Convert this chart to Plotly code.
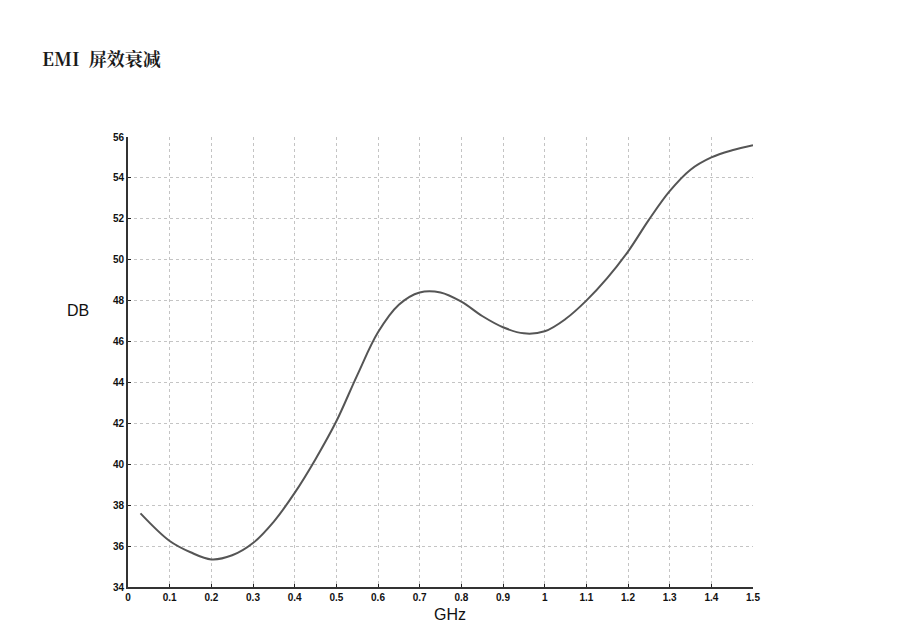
import plotly.graph_objects as go

freq_ghz = [0.03, 0.1, 0.15, 0.2, 0.25, 0.3, 0.35, 0.4, 0.45, 0.5, 0.55, 0.6,
            0.65, 0.7, 0.75, 0.8, 0.85, 0.9, 0.95, 1.0, 1.05, 1.1, 1.15,
            1.2, 1.25, 1.3, 1.35, 1.4, 1.45, 1.5]
atten_db = [37.6, 36.25, 35.7, 35.35, 35.55, 36.15, 37.2, 38.6, 40.25, 42.1, 44.35, 46.45,
            47.8, 48.4, 48.4, 47.95, 47.25, 46.7, 46.4, 46.5, 47.1, 48.0, 49.1,
            50.4, 51.95, 53.35, 54.4, 55.0, 55.35, 55.6]

x_ticks = [0, 0.1, 0.2, 0.3, 0.4, 0.5, 0.6, 0.7, 0.8, 0.9, 1, 1.1, 1.2, 1.3, 1.4, 1.5]
x_labels = ["0", "0.1", "0.2", "0.3", "0.4", "0.5", "0.6", "0.7", "0.8", "0.9", "1",
            "1.1", "1.2", "1.3", "1.4", "1.5"]
y_ticks = [34, 36, 38, 40, 42, 44, 46, 48, 50, 52, 54, 56]

fig = go.Figure()
fig.add_trace(go.Scatter(
    x=freq_ghz, y=atten_db, mode="lines",
    line=dict(color="#555555", width=2, shape="spline", smoothing=1.0),
    showlegend=False, hoverinfo="x+y",
))

tick_font = dict(family="Liberation Sans, Arial, sans-serif", size=10, color="#111111",
                 weight="bold")
grid = dict(showgrid=True, gridcolor="#c4c4c4", gridwidth=1, griddash="3px,3px")

# the page puts the figure 8px in from the top-left corner
fig.update_layout(
    width=899, height=636,
    margin=dict(l=120, r=154, t=129, b=57),
    paper_bgcolor="white", plot_bgcolor="white",
    title=dict(text="EMI\u2002屏效衰减", x=34 / 899, xanchor="left", y=1 - 52 / 636, yanchor="middle",
               font=dict(family="Noto Serif CJK SC, Liberation Serif, Noto Sans CJK SC, serif",
                         size=18, color="#1a1a1a", weight="bold")),
    xaxis=dict(range=[0, 1.5], tickvals=x_ticks, ticktext=x_labels, tickfont=tick_font,
               ticks="inside", ticklen=3, tickcolor="#222222",
               showline=True, linecolor="#333333", linewidth=2, mirror=False,
               zeroline=False, **grid),
    yaxis=dict(range=[34, 56], tickvals=y_ticks, tickfont=tick_font,
               ticks="inside", ticklen=3, tickcolor="#222222",
               showline=True, linecolor="#333333", linewidth=2, mirror=False,
               zeroline=False, **grid),
    annotations=[
        dict(text="DB", xref="paper", yref="paper", x=(78 - 128) / 625, y=(587 - 310) / 450,
             xanchor="center", yanchor="middle", showarrow=False,
             font=dict(family="Liberation Sans, Arial, sans-serif", size=16, color="#111111")),
        dict(text="GHz", xref="paper", yref="paper", x=(450 - 128) / 625, y=-(614 - 587) / 450,
             xanchor="center", yanchor="middle", showarrow=False,
             font=dict(family="Liberation Sans, Arial, sans-serif", size=16, color="#111111")),
    ],
)

fig.write_html("out.html")
